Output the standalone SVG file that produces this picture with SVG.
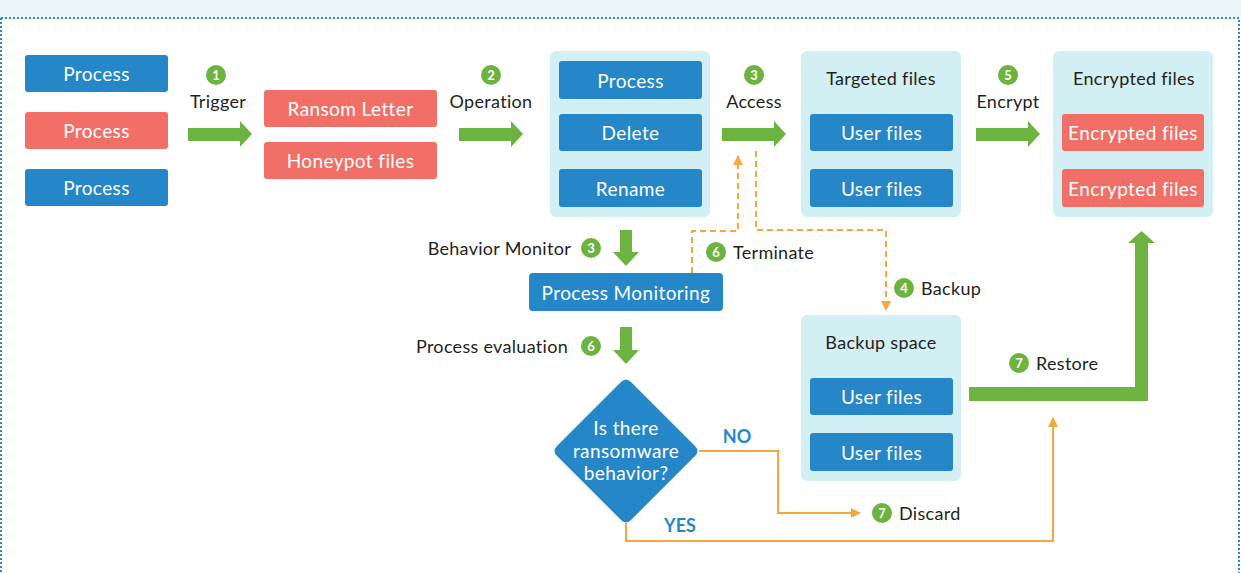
<svg xmlns="http://www.w3.org/2000/svg" width="1241" height="573" viewBox="0 0 1241 573">
<defs>
<style>
.blue{fill:#2587c8}
.red{fill:#f26f67}
.cont{fill:#d2eff3}
.bt{font-family:Lato,"Open Sans","Liberation Sans",sans-serif;font-size:19px;letter-spacing:0.4px;fill:#fff;text-anchor:middle;dominant-baseline:central}
.lt{font-family:Lato,"Open Sans","Liberation Sans",sans-serif;font-size:18px;letter-spacing:0.3px;fill:#231f20;dominant-baseline:central}
.num{font-family:Lato,"Open Sans","Liberation Sans",sans-serif;font-size:13px;font-weight:bold;fill:#fff;text-anchor:middle;dominant-baseline:central}
.yn{font-family:Lato,"Open Sans","Liberation Sans",sans-serif;font-size:18px;font-weight:bold;fill:#2587c8;text-anchor:middle;dominant-baseline:central}
.ga{fill:#6db33f}
.dash{fill:none;stroke:#f3a93f;stroke-width:2;stroke-dasharray:6 4}
.sol{fill:none;stroke:#f3a93f;stroke-width:2}
</style>
<marker id="oa" viewBox="0 0 10 10" refX="9" refY="5" markerWidth="5" markerHeight="5" orient="auto" markerUnits="strokeWidth"><path d="M0,0 L10,5 L0,10 z" fill="#f3a93f"/></marker>
</defs>
<rect x="0" y="0" width="1241" height="18" fill="#ecf7fa"/>
<path d="M1,18 H1239 V573 M1,18 V573" fill="none" stroke="#2a8ad0" stroke-width="2" stroke-dasharray="2 2"/>

<g id="connectors">
<path class="ga" d="M188,128 H240 V121 L252,134 L240,147 V141 H188 z"/>
<path class="ga" d="M459,128 H511 V121 L523,134 L511,147 V141 H459 z"/>
<path class="ga" d="M722,128 H774 V121 L786,134 L774,147 V141 H722 z"/>
<path class="ga" d="M976,128 H1028 V121 L1040,134 L1028,147 V141 H976 z"/>
<path class="ga" d="M620,230 H632 V252 H639 L626,266 L613,252 H620 z"/>
<path class="ga" d="M620,327 H632 V350 H639 L626,364 L613,350 H620 z"/>
<path class="ga" d="M969,387 H1135 V243 H1128 L1141.5,231 L1155,243 H1148 V401 H969 z"/>
<path class="dash" d="M692,273 V231 H738 V156" marker-end="url(#oa)"/>
<path class="dash" d="M756,151 V230 H886 V310" marker-end="url(#oa)"/>
<path class="sol" d="M699,451 H778 V513 H860" marker-end="url(#oa)"/>
<path class="sol" d="M626,523 V541 H1053 V418" marker-end="url(#oa)"/>
<text class="yn" x="737" y="436">NO</text>
<text class="yn" x="680" y="525">YES</text>
</g>

<g id="step1">
<circle class="ga" cx="216" cy="75" r="10"/><text class="num" x="216" y="75">1</text>
<text class="lt" x="218" y="101" text-anchor="middle">Trigger</text>
</g>
<g id="step2">
<circle class="ga" cx="491" cy="75" r="10"/><text class="num" x="491" y="75">2</text>
<text class="lt" x="491" y="101" text-anchor="middle">Operation</text>
</g>
<g id="step3">
<circle class="ga" cx="754" cy="75" r="10"/><text class="num" x="754" y="75">3</text>
<text class="lt" x="754" y="101" text-anchor="middle">Access</text>
</g>
<g id="step5">
<circle class="ga" cx="1008" cy="75" r="10"/><text class="num" x="1008" y="75">5</text>
<text class="lt" x="1008" y="101" text-anchor="middle">Encrypt</text>
</g>
<g id="behavior-monitor">
<text class="lt" x="571" y="248" text-anchor="end">Behavior Monitor</text>
<circle class="ga" cx="591" cy="248" r="10"/><text class="num" x="591" y="248">3</text>
</g>
<g id="process-evaluation">
<text class="lt" x="568" y="346" text-anchor="end">Process evaluation</text>
<circle class="ga" cx="591" cy="346" r="10"/><text class="num" x="591" y="346">6</text>
</g>
<g id="terminate">
<circle class="ga" cx="716" cy="252" r="10"/><text class="num" x="716" y="252">6</text>
<text class="lt" x="733" y="252">Terminate</text>
</g>
<g id="backup">
<circle class="ga" cx="904" cy="288" r="10"/><text class="num" x="904" y="288">4</text>
<text class="lt" x="921" y="288">Backup</text>
</g>
<g id="restore">
<circle class="ga" cx="1019" cy="363" r="10"/><text class="num" x="1019" y="363">7</text>
<text class="lt" x="1036" y="363">Restore</text>
</g>
<g id="discard">
<circle class="ga" cx="882" cy="513" r="10"/><text class="num" x="882" y="513">7</text>
<text class="lt" x="899" y="513">Discard</text>
</g>

<g id="processes">
<rect class="blue" x="25" y="55" width="143" height="37" rx="3"/><text class="bt" x="96.5" y="73.5">Process</text>
<rect class="red" x="25" y="112" width="143" height="37" rx="3"/><text class="bt" x="96.5" y="130.5">Process</text>
<rect class="blue" x="25" y="169" width="143" height="37" rx="3"/><text class="bt" x="96.5" y="187.5">Process</text>
</g>
<g id="bait">
<rect class="red" x="264" y="90" width="173" height="37" rx="3"/><text class="bt" x="350.5" y="108.5">Ransom Letter</text>
<rect class="red" x="264" y="142" width="173" height="37" rx="3"/><text class="bt" x="350.5" y="160.5">Honeypot files</text>
</g>
<g id="operations">
<rect class="cont" x="550" y="51" width="160" height="166" rx="6"/>
<rect class="blue" x="559" y="61" width="143" height="38" rx="3"/><text class="bt" x="630.5" y="80">Process</text>
<rect class="blue" x="559" y="114" width="143" height="37" rx="3"/><text class="bt" x="630.5" y="132.5">Delete</text>
<rect class="blue" x="559" y="169" width="143" height="38" rx="3"/><text class="bt" x="630.5" y="188">Rename</text>
</g>
<g id="targeted-files">
<rect class="cont" x="801" y="51" width="160" height="166" rx="6"/>
<text class="lt" x="881" y="78" text-anchor="middle">Targeted files</text>
<rect class="blue" x="810" y="114" width="143" height="37" rx="3"/><text class="bt" x="881.5" y="132.5">User files</text>
<rect class="blue" x="810" y="169" width="143" height="38" rx="3"/><text class="bt" x="881.5" y="188">User files</text>
</g>
<g id="encrypted-files">
<rect class="cont" x="1053" y="51" width="160" height="166" rx="6"/>
<text class="lt" x="1134" y="78" text-anchor="middle">Encrypted files</text>
<rect class="red" x="1062" y="114" width="142" height="37" rx="3"/><text class="bt" x="1133" y="132.5">Encrypted files</text>
<rect class="red" x="1062" y="169" width="142" height="38" rx="3"/><text class="bt" x="1133" y="188">Encrypted files</text>
</g>
<g id="process-monitoring">
<rect class="blue" x="529" y="273" width="194" height="38" rx="4"/><text class="bt" x="626" y="292">Process Monitoring</text>
</g>
<g id="decision">
<path class="blue" d="M621,382 Q626,377 631,382 L695,446 Q700,451 695,456 L631,520 Q626,525 621,520 L557,456 Q552,451 557,446 z"/>
<text class="bt" x="626" y="427">Is there</text>
<text class="bt" x="626" y="450">ransomware</text>
<text class="bt" x="626" y="472">behavior?</text>
</g>
<g id="backup-space">
<rect class="cont" x="801" y="315" width="160" height="166" rx="6"/>
<text class="lt" x="881" y="342" text-anchor="middle">Backup space</text>
<rect class="blue" x="810" y="378" width="143" height="37" rx="3"/><text class="bt" x="881.5" y="396.5">User files</text>
<rect class="blue" x="810" y="433" width="143" height="38" rx="3"/><text class="bt" x="881.5" y="452">User files</text>
</g>
</svg>
